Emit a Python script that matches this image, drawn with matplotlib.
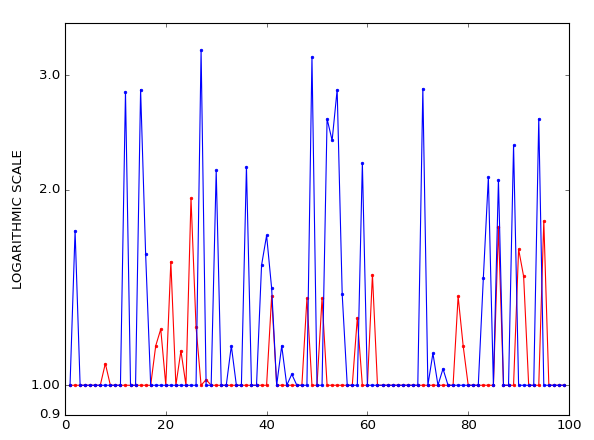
import matplotlib
matplotlib.use("Agg")
import matplotlib.pyplot as plt
from matplotlib.ticker import FixedLocator, FixedFormatter, NullLocator

plt.style.use("classic")

x = list(range(1, 100))
blue = [1, 1.73, 1, 1, 1, 1, 1, 1, 1, 1,
        1, 2.83, 1, 1, 2.85, 1.59, 1, 1, 1, 1,
        1, 1, 1, 1, 1, 1, 3.28, 1, 1, 2.14,
        1, 1, 1.15, 1, 1, 2.17, 1, 1, 1.53, 1.70,
        1.41, 1, 1.15, 1, 1.04, 1, 1, 1, 3.20, 1,
        1, 2.57, 2.38, 2.85, 1.38, 1, 1, 1, 2.20, 1,
        1, 1, 1, 1, 1, 1, 1, 1, 1, 1,
        2.86, 1, 1.12, 1, 1.06, 1, 1, 1, 1, 1,
        1, 1, 1.46, 2.09, 1, 2.07, 1, 1, 2.34, 1,
        1, 1, 1, 2.57, 1, 1, 1, 1, 1]
red = [1, 1, 1, 1, 1, 1, 1, 1.08, 1, 1,
       1, 1, 1, 1, 1, 1, 1, 1.15, 1.22, 1,
       1.55, 1, 1.13, 1, 1.94, 1.23, 1, 1.02, 1, 1,
       1, 1, 1, 1, 1, 1, 1, 1, 1, 1,
       1.37, 1, 1, 1, 1, 1, 1, 1.36, 1, 1,
       1.36, 1, 1, 1, 1, 1, 1, 1.27, 1, 1,
       1.48, 1, 1, 1, 1, 1, 1, 1, 1, 1,
       1, 1, 1, 1, 1, 1, 1, 1.37, 1.15, 1,
       1, 1, 1, 1, 1, 1.75, 1, 1, 1, 1.62,
       1.47, 1, 1, 1, 1.79, 1, 1, 1, 1]

ytick_vals = [0.9, 1.0, 2.0, 3.0]
ytick_labels = ["0.9", "1.00", "2.0", "3.0"]

fig = plt.figure(figsize=(594 / 80, 440 / 80), dpi=80)
ax = fig.add_axes([65 / 594, 25 / 440, 504 / 594, 392 / 440])

ax.plot(x, red, color="r", marker="o", markersize=2.5, markeredgewidth=0.5,
        markeredgecolor="r", linewidth=1)
ax.plot(x, blue, color="b", marker="o", markersize=2.5, markeredgewidth=0.5,
        markeredgecolor="b", linewidth=1)

ax.set_yscale("log")
ax.set_xlim(0, 100)
ax.set_ylim(0.9, max(blue) * 1.1)
ax.yaxis.set_major_locator(FixedLocator(ytick_vals))
ax.yaxis.set_major_formatter(FixedFormatter(ytick_labels))
ax.yaxis.set_minor_locator(NullLocator())
ax.set_ylabel("LOGARITHMIC SCALE")

fig.savefig("out.png", dpi=80)
